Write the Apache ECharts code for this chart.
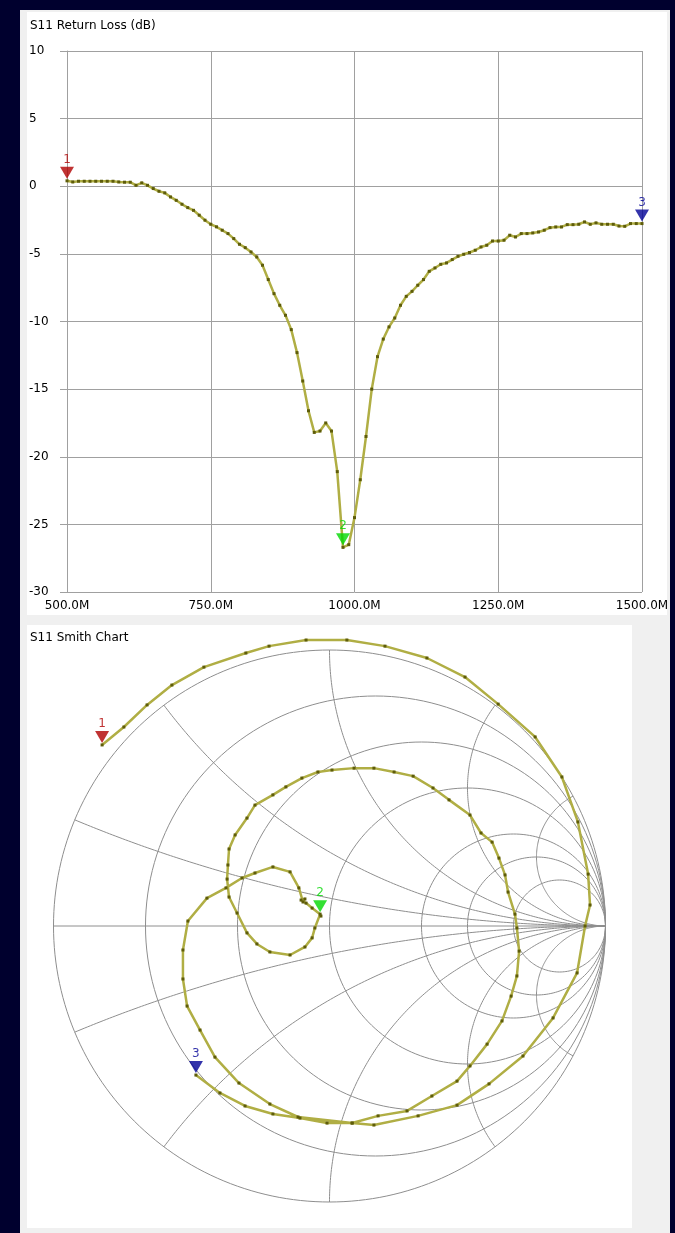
<!DOCTYPE html>
<html>
<head>
<meta charset="utf-8">
<title>S11</title>
<script src="https://cdn.jsdelivr.net/npm/echarts@6/dist/echarts.min.js"></script>
<style>
  html, body { margin: 0; padding: 0; width: 675px; height: 1233px; overflow: hidden; background: #00002e; }
  #win { position: absolute; left: 20px; top: 10px; width: 650px; height: 1223px; background: #f0f0f0; }
  .panel { position: absolute; background: #ffffff; }
  #p1 { left: 27px; top: 12px; width: 640px; height: 603px; }
  #p2 { left: 27px; top: 625px; width: 605px; height: 603px; }
  #chart { position: absolute; left: 0; top: 0; width: 675px; height: 1233px; }
</style>
</head>
<body>
<div id="win"></div>
<div class="panel" id="p1"></div>
<div class="panel" id="p2"></div>
<div id="chart"></div>
<script>
// Sweep frequencies (MHz)
const freqMHz = [
  500, 510, 520, 530, 540, 550, 560, 570, 580, 590,
  600, 610, 620, 630, 640, 650, 660, 670, 680, 690,
  700, 710, 720, 730, 740, 750, 760, 770, 780, 790,
  800, 810, 820, 830, 840, 850, 860, 870, 880, 890,
  900, 910, 920, 930, 940, 950, 960, 970, 980, 990,
  1000, 1010, 1020, 1030, 1040, 1050, 1060, 1070, 1080, 1090,
  1100, 1110, 1120, 1130, 1140, 1150, 1160, 1170, 1180, 1190,
  1200, 1210, 1220, 1230, 1240, 1250, 1260, 1270, 1280, 1290,
  1300, 1310, 1320, 1330, 1340, 1350, 1360, 1370, 1380, 1390,
  1400, 1410, 1420, 1430, 1440, 1450, 1460, 1470, 1480, 1490,
  1500
];

// S11 return loss (dB)
const returnLossDb = [
  0.40, 0.32, 0.37, 0.37, 0.37, 0.37, 0.37, 0.37, 0.37, 0.32,
  0.30, 0.30, 0.07, 0.25, 0.07, -0.17, -0.37, -0.49, -0.79, -1.04,
  -1.33, -1.58, -1.78, -2.14, -2.51, -2.81, -3.00, -3.25, -3.50, -3.87,
  -4.29, -4.54, -4.86, -5.23, -5.84, -6.90, -7.94, -8.80, -9.54, -10.6,
  -12.3, -14.4, -16.6, -18.2, -18.1, -17.5, -18.1, -21.1, -26.7, -26.5,
  -24.5, -21.7, -18.5, -15.0, -12.6, -11.3, -10.4, -9.74, -8.80, -8.14,
  -7.77, -7.32, -6.90, -6.29, -6.04, -5.77, -5.67, -5.42, -5.18, -5.03,
  -4.90, -4.73, -4.49, -4.36, -4.05, -4.05, -3.99, -3.62, -3.75, -3.50,
  -3.50, -3.45, -3.38, -3.25, -3.06, -3.01, -3.01, -2.84, -2.84, -2.81,
  -2.64, -2.81, -2.71, -2.81, -2.81, -2.81, -2.94, -2.96, -2.76, -2.76,
  -2.76
];

// Reflection coefficient, real part
const gammaRe = [
  -0.824, -0.745, -0.661, -0.571, -0.455, -0.303, -0.219, -0.085, 0.063, 0.201,
  0.353, 0.491, 0.611, 0.745, 0.842, 0.900, 0.937, 0.944, 0.926, 0.897,
  0.810, 0.701, 0.578, 0.462, 0.321, 0.161, 0.082, -0.114, -0.216, -0.328,
  -0.415, -0.469, -0.516, -0.531, -0.531, -0.513, -0.444, -0.375, -0.317, -0.270,
  -0.205, -0.143, -0.111, -0.096, -0.089, -0.103, -0.085, -0.063, -0.034, -0.031,
  -0.053, -0.063, -0.089, -0.143, -0.216, -0.263, -0.299, -0.335, -0.364, -0.371,
  -0.368, -0.364, -0.342, -0.299, -0.270, -0.205, -0.158, -0.100, -0.042, 0.009,
  0.089, 0.161, 0.234, 0.303, 0.375, 0.433, 0.509, 0.549, 0.589, 0.614,
  0.636, 0.647, 0.672, 0.679, 0.687, 0.679, 0.658, 0.625, 0.571, 0.509,
  0.462, 0.371, 0.281, 0.176, 0.082, -0.009, -0.107, -0.205, -0.306, -0.397,
  -0.484
];

// Reflection coefficient, imaginary part
const gammaIm = [
  0.656, 0.721, 0.801, 0.873, 0.938, 0.989, 1.014, 1.036, 1.036, 1.014,
  0.971, 0.902, 0.804, 0.685, 0.540, 0.377, 0.188, 0.076, 0.000, -0.170,
  -0.333, -0.471, -0.572, -0.649, -0.688, -0.721, -0.714, -0.692, -0.645, -0.569,
  -0.475, -0.377, -0.290, -0.192, -0.087, 0.018, 0.101, 0.138, 0.174, 0.192,
  0.214, 0.196, 0.138, 0.087, 0.098, 0.094, 0.083, 0.065, 0.043, 0.036,
  -0.007, -0.043, -0.076, -0.105, -0.094, -0.065, -0.025, 0.047, 0.105, 0.170,
  0.221, 0.279, 0.330, 0.391, 0.438, 0.475, 0.504, 0.536, 0.558, 0.565,
  0.572, 0.572, 0.558, 0.543, 0.500, 0.457, 0.402, 0.337, 0.304, 0.246,
  0.185, 0.123, 0.043, -0.007, -0.091, -0.181, -0.254, -0.344, -0.428, -0.507,
  -0.562, -0.616, -0.670, -0.688, -0.714, -0.714, -0.696, -0.681, -0.652, -0.605,
  -0.540
];

// Markers: sweep index, label, colour
const markerIndex = [0, 48, 100];
const markerLabel = ['1', '2', '3'];
const markerColor = ['#b00000', '#00d800', '#000096'];

// Smith chart grid values (normalised)
const smithResistance = [0.2, 0.5, 1, 2, 3, 5];
const smithReactance = [0.2, 0.5, 1, 2, 4];

const FONT = 'DejaVu Sans';
const GRID_COLOR = '#a0a0a0';
const SMITH_GRID = '#8e8e8e';
const TRACE = '#b0ae44';
const DOT = '#5e5c0a';

function arc(cx, cy, r, a0, a1, n) {
  const pts = [];
  for (let i = 0; i <= n; i++) {
    const a = a0 + (a1 - a0) * i / n;
    pts.push([cx + r * Math.cos(a), cy + r * Math.sin(a)]);
  }
  return pts;
}

// Smith chart construction lines
const smithLines = [];
smithLines.push({ coords: arc(0, 0, 1, 0, 2 * Math.PI, 240) });
smithLines.push({ coords: [[-1, 0], [1, 0]] });
smithResistance.forEach(r => {
  smithLines.push({ coords: arc(r / (1 + r), 0, 1 / (1 + r), 0, 2 * Math.PI, 180) });
});
smithReactance.forEach(x => {
  const span = 2 * Math.atan(x);
  const rad = 1 / x;
  [1, -1].forEach(s => {
    const pts = arc(1, s * rad, rad, -s * Math.PI / 2, -s * (Math.PI / 2 + span), 160);
    smithLines.push({ coords: pts });
  });
});

const rlData = freqMHz.map((f, i) => [f, returnLossDb[i]]);
const smithData = gammaRe.map((g, i) => [g, gammaIm[i]]);

function markerSeries(xi, yi, valueOf) {
  return {
    type: 'scatter',
    xAxisIndex: xi,
    yAxisIndex: yi,
    clip: false,
    z: 5,
    symbol: 'path://M0,0L14,0L7,12Z',
    symbolSize: [14, 12],
    symbolOffset: [0, -8],
    data: markerIndex.map((idx, k) => ({
      value: valueOf(idx),
      name: markerLabel[k],
      itemStyle: { color: markerColor[k] },
      label: { color: markerColor[k] }
    })),
    label: {
      show: true,
      position: 'top',
      distance: 1,
      formatter: p => p.name,
      fontFamily: FONT,
      fontSize: 12
    },
    silent: true
  };
}

const chart = echarts.init(document.getElementById('chart'), null, { renderer: 'canvas' });

chart.setOption({
  animation: false,
  backgroundColor: 'transparent',
  title: [
    {
      text: 'S11 Return Loss (dB)', left: 30, top: 20, padding: 0,
      textStyle: { fontFamily: FONT, fontSize: 12, fontWeight: 'normal', color: '#000' }
    },
    {
      text: 'S11 Smith Chart', left: 30, top: 632, padding: 0,
      textStyle: { fontFamily: FONT, fontSize: 12, fontWeight: 'normal', color: '#000' }
    }
  ],
  grid: [
    { left: 67, top: 51, width: 575, height: 541 },
    { left: 329.5 - 1.1 * 276, top: 926 - 1.1 * 276, width: 2.2 * 276, height: 2.2 * 276 }
  ],
  xAxis: [
    {
      type: 'value', gridIndex: 0, min: 500, max: 1500, interval: 250,
      axisLine: { show: true, lineStyle: { color: GRID_COLOR } },
      axisTick: { show: true, length: 4, lineStyle: { color: GRID_COLOR } },
      splitLine: { show: true, lineStyle: { color: GRID_COLOR, width: 1 } },
      axisLabel: {
        margin: 8, color: '#000', fontFamily: FONT, fontSize: 12,
        formatter: v => v.toFixed(1) + 'M'
      }
    },
    { type: 'value', gridIndex: 1, min: -1.1, max: 1.1, show: false }
  ],
  yAxis: [
    {
      type: 'value', gridIndex: 0, min: -30, max: 10, interval: 5,
      axisLine: { show: true, lineStyle: { color: GRID_COLOR } },
      axisTick: { show: true, length: 7, lineStyle: { color: GRID_COLOR } },
      splitLine: { show: true, lineStyle: { color: GRID_COLOR, width: 1 } },
      axisLabel: { align: 'left', margin: 38, color: '#000', fontFamily: FONT, fontSize: 12 }
    },
    { type: 'value', gridIndex: 1, min: -1.1, max: 1.1, show: false }
  ],
  series: [
    {
      type: 'line',
      xAxisIndex: 0, yAxisIndex: 0,
      data: rlData,
      showAllSymbol: true,
      symbol: 'rect', symbolSize: 3,
      lineStyle: { color: TRACE, width: 2.5 },
      itemStyle: { color: DOT },
      silent: true, z: 3
    },
    markerSeries(0, 0, idx => [freqMHz[idx], returnLossDb[idx]]),
    {
      type: 'lines',
      coordinateSystem: 'cartesian2d',
      xAxisIndex: 1, yAxisIndex: 1,
      polyline: true,
      silent: true,
      lineStyle: { color: SMITH_GRID, width: 1, opacity: 1 },
      data: smithLines,
      z: 1
    },
    {
      type: 'line',
      xAxisIndex: 1, yAxisIndex: 1,
      data: smithData,
      showAllSymbol: true,
      symbol: 'rect', symbolSize: 3,
      lineStyle: { color: TRACE, width: 2.5 },
      itemStyle: { color: DOT },
      clip: false,
      silent: true, z: 3
    },
    markerSeries(1, 1, idx => [gammaRe[idx], gammaIm[idx]])
  ]
});
</script>
</body>
</html>
